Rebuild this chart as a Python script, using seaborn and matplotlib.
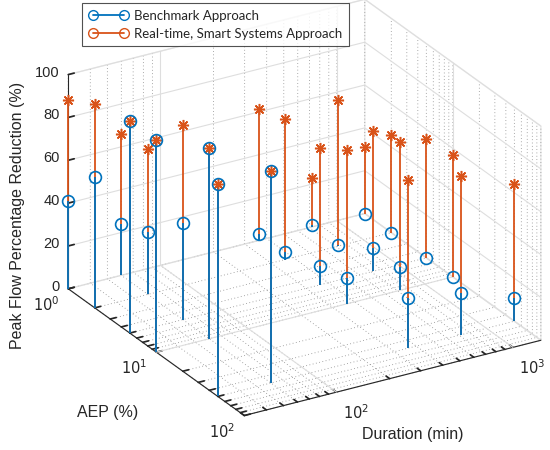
import numpy as np
import seaborn as sns
import matplotlib.pyplot as plt
from matplotlib.lines import Line2D
from mpl_toolkits.mplot3d import proj3d

sns.set_theme(style="white")
plt.rcParams['font.family'] = ['Liberation Sans', 'DejaVu Sans']

durations = [30, 60, 360, 720, 1440]   # min
aep = [1, 2, 5, 10, 50]                # %

# rows follow durations, columns follow aep
benchmark = [[41, 61, 99, 99, 99],
             [24, 29, 45, 89, 99],
             [3, 3.5, 9, 12, 23.5],
             [1, 0.5, 10.7, 10.8, 19.4],
             [0, 0, 0, 0, 10.8]]
smart = [[88, 95, 99, 99, 99],
         [66, 68, 91, 89, 99],
         [61.6, 65.4, 64, 72, 78.4],
         [22.7, 68.4, 65.4, 69.3, 74.1],
         [31, 45.5, 55.3, 56.9, 64]]
zticks = [0, 20, 40, 60, 80, 100]

blue = '#0072BD'
red = '#D95319'

# long table, log10 coordinates (3d axes have no log scale)
A, D = np.meshgrid(np.log10(aep), np.log10(durations))
xa, yd = A.ravel(), D.ravel()
zb = np.array(benchmark, float).ravel()
zs = np.array(smart, float).ravel()

fig = plt.figure(figsize=(5.5, 4.5), dpi=100)
side = 560
cx, cy = 297, 235
ax = fig.add_axes([(cx - side / 2) / 550, (cy - side / 2) / 450, side / 550, side / 450],
                  projection='3d', proj_type='ortho', computed_zorder=False)
ax.set_box_aspect((1, 1, 0.687), zoom=0.94)
ax.view_init(elev=25.3, azim=-30.7)

xlo, xhi = 0, 2
ylo, yhi = np.log10(30), np.log10(1440)
ax.set_xlim(xlo, xhi)
ax.set_ylim(ylo, yhi)
ax.set_zlim(0, 100)

# ticks: labels are placed by hand below
xmaj = [0, 1, 2]
xmin = [np.log10(m * 10 ** k) for k in (0, 1) for m in range(2, 10)]
ymaj = [2, 3]
ymin = [np.log10(m * 10 ** k) for k in (1, 2) for m in range(2, 10)]
ymin = [v for v in ymin if ylo <= v <= yhi]
xt = sorted(xmaj + xmin)
yt = sorted(ymaj + ymin)
ax.set_xticks(xt)
ax.set_xticklabels([''] * len(xt))
ax.set_yticks(yt)
ax.set_yticklabels([''] * len(yt))
ax.set_zticks(zticks)
ax.set_zticklabels([''] * len(zticks))
ax.zaxis.set_ticks_position('lower')

for axis in (ax.xaxis, ax.yaxis, ax.zaxis):
    axis.pane.fill = False
    axis.pane.set_edgecolor('0.85')
    axis.line.set_color('0.15')
    axis.line.set_linewidth(0.8)
    axis._axinfo['tick']['color'] = '0.15'
    axis._axinfo['tick']['inward_factor'] = 0.0
    axis._axinfo['tick']['outward_factor'] = 0.25
for axis in (ax.xaxis, ax.yaxis):
    axis._axinfo['grid'].update(color='0.55', linestyle=(0, (1, 3)), linewidth=0.6)
ax.zaxis._axinfo['grid'].update(color='0.87', linestyle='-', linewidth=0.8)
ax.tick_params(colors='0.15', pad=0)

# solid major grid lines on the back panes
for v in [1]:
    ax.plot([v, v], [ylo, yhi], [0, 0], color='0.87', lw=0.8, zorder=0)
    ax.plot([v, v], [yhi, yhi], [0, 100], color='0.87', lw=0.8, zorder=0)
for v in ymaj:
    ax.plot([xlo, xhi], [v, v], [0, 0], color='0.87', lw=0.8, zorder=0)
    ax.plot([xlo, xlo], [v, v], [0, 100], color='0.87', lw=0.8, zorder=0)

st = ax.stem(xa, yd, zs, linefmt='-', markerfmt='o', basefmt=' ', bottom=0)
plt.setp(st.stemlines, color=red, linewidth=1.3, zorder=2)
plt.setp(st.markerline, color=red, marker=(8, 2, 0), markersize=8, markeredgewidth=1.1, zorder=3)
sb = ax.stem(xa, yd, zb, linefmt='-', markerfmt='o', basefmt=' ', bottom=0)
plt.setp(sb.stemlines, color=blue, linewidth=1.3, zorder=2)
plt.setp(sb.markerline, color=blue, markerfacecolor='none', markersize=8.5,
         markeredgewidth=1.2, zorder=3)

# tick labels, MATLAB-like placement
M = ax.get_proj()
lab = dict(xycoords='data', textcoords='offset points', fontsize=10.5, color='0.15',
           annotation_clip=False)
for v in xmaj:
    px, py, _ = proj3d.proj_transform(v, ylo, 0, M)
    ax.annotate('$10^{%d}$' % v, xy=(px, py), xytext=(-16, -11.5), ha='center', va='center', **lab)
for v in ymaj:
    px, py, _ = proj3d.proj_transform(xhi, v, 0, M)
    ax.annotate('$10^{%d}$' % v, xy=(px, py), xytext=(14, -14.5), ha='center', va='center', **lab)
for v in zticks:
    px, py, _ = proj3d.proj_transform(xlo, ylo, v, M)
    ax.annotate(str(v), xy=(px, py), xytext=(-6, 1.5), ha='right', va='center', **lab)

ax.set_xlabel('')
ax.set_ylabel('')
ax.set_zlabel('')
fig.text(18 / 550, 1 - 215 / 450, 'Peak Flow Percentage Reduction (%)', rotation=90,
         ha='center', va='center', fontsize=11.5, color='0.15')
fig.text(108 / 550, 1 - 412 / 450, 'AEP (%)', ha='center', va='center', fontsize=11.5, color='0.15')
fig.text(413 / 550, 1 - 435 / 450, 'Duration (min)', ha='center', va='center', fontsize=11.5,
         color='0.15')

handles = [Line2D([0, 1], [0, 0], color=blue, lw=1.3, marker='o', mfc='none', ms=7, markevery=[1]),
           Line2D([0, 1], [0, 0], color=red, lw=1.3, marker='o', mfc='none', ms=7, markevery=[1])]
leg = fig.legend(handles, ['Benchmark Approach', 'Real-time, Smart Systems Approach'],
                 loc='upper left', bbox_to_anchor=(82 / 550, 1 - 3 / 450), numpoints=2,
                 handlelength=3.0, frameon=True, fancybox=False, borderaxespad=0,
                 borderpad=0.5, labelspacing=0.45, handletextpad=0.45,
                 prop={'family': ['Lato', 'DejaVu Sans'], 'size': 9.5})
leg.get_frame().set_edgecolor('0.15')
leg.get_frame().set_linewidth(0.8)

fig.savefig('out.png', dpi=100)
